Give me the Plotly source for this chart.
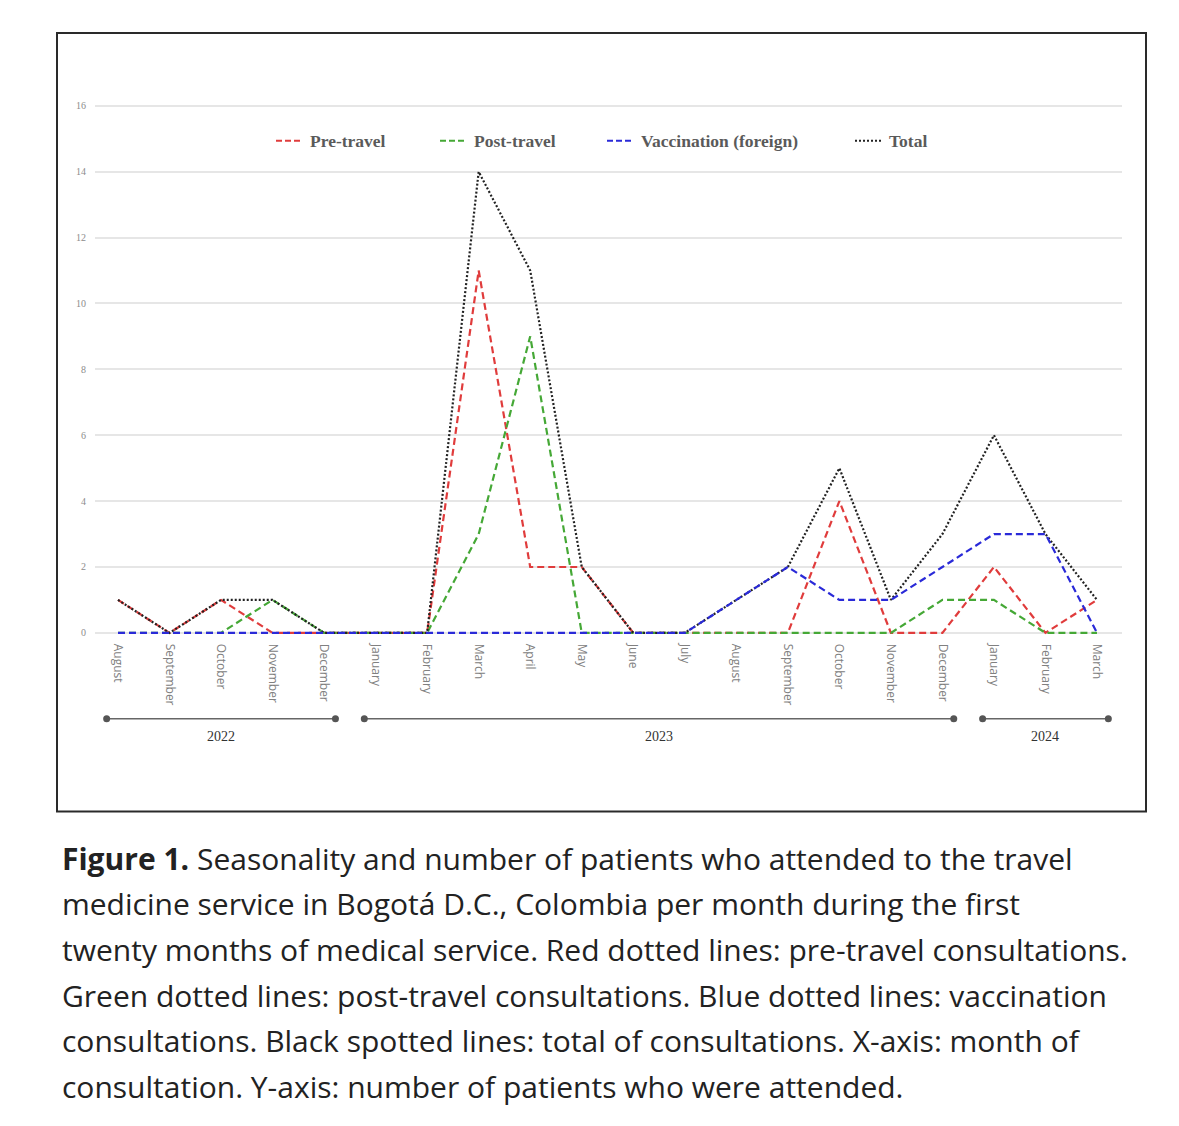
import plotly.graph_objects as go

months = ["August", "September", "October", "November", "December",
          "January", "February", "March", "April", "May", "June", "July",
          "August", "September", "October", "November", "December",
          "January", "February", "March"]
pre_travel = [1, 0, 1, 0, 0, 0, 0, 11, 2, 2, 0, 0, 0, 0, 4, 0, 0, 2, 0, 1]
post_travel = [0, 0, 0, 1, 0, 0, 0, 3, 9, 0, 0, 0, 0, 0, 0, 0, 1, 1, 0, 0]
vaccination = [0, 0, 0, 0, 0, 0, 0, 0, 0, 0, 0, 0, 1, 2, 1, 1, 2, 3, 3, 0]
total = [1, 0, 1, 1, 0, 0, 0, 14, 11, 2, 0, 0, 1, 2, 5, 1, 3, 6, 3, 1]
years = ["2022", "2023", "2024"]
year_first = [0, 5, 17]
year_last = [4, 16, 19]
y_ticks = [0, 2, 4, 6, 8, 10, 12, 14, 16]

series_names = ["Pre-travel", "Post-travel", "Vaccination (foreign)", "Total"]
colors = ["#e03c3c", "#45a836", "#2a2ad8", "#222222"]

W, H = 1179, 1126
x = list(range(len(months)))

fig = go.Figure()

def add(vals, color, dash):
    fig.add_trace(go.Scatter(x=x, y=vals, mode="lines",
                             line=dict(color=color, width=2.2, dash=dash),
                             showlegend=False, hoverinfo="skip"))

add(pre_travel, colors[0], "7px,4px")
add(post_travel, colors[1], "7px,4px")
add(total, colors[3], "2px,2px")
add(vaccination, colors[2], "7px,4px")

def px_y(p):
    return 1 - p / H

def px_x(p):
    return p / W

shapes = []
annotations = []

# border box
shapes.append(dict(type="rect", xref="paper", yref="paper",
                   x0=px_x(57), x1=px_x(1146), y0=px_y(811), y1=px_y(31),
                   line=dict(color="#2a2a2a", width=2)))

# year brackets
by = px_y(718)
for name, a, b in zip(years, year_first, year_last):
    shapes.append(dict(type="line", xref="x", yref="paper", x0=a - 0.22, x1=b + 0.22,
                       y0=by, y1=by, line=dict(color="#666666", width=1.5)))
    for xe in (a - 0.22, b + 0.22):
        shapes.append(dict(type="circle", xref="x", yref="paper",
                           xsizemode="pixel", ysizemode="pixel",
                           xanchor=xe, yanchor=by, x0=-3.5, x1=3.5, y0=-3.5, y1=3.5,
                           fillcolor="#555555", line=dict(color="#555555", width=0)))
    annotations.append(dict(text=name, xref="x", yref="paper", x=(a + b) / 2,
                            y=px_y(736), showarrow=False, xanchor="center", yanchor="middle",
                            font=dict(family="Liberation Serif", size=14, color="#333333")))

# legend (manual)
leg_y = px_y(139)
leg_x = [276, 440, 607, 855]
for name, color, lx in zip(series_names, colors, leg_x):
    dash = "2px,2px" if name == "Total" else "6px,3px"
    shapes.append(dict(type="line", xref="paper", yref="paper",
                       x0=px_x(lx), x1=px_x(lx + 27), y0=leg_y, y1=leg_y,
                       line=dict(color=color, width=2.2, dash=dash)))
    annotations.append(dict(text="<b>" + name + "</b>", xref="paper", yref="paper",
                            x=px_x(lx + 32), y=leg_y, showarrow=False,
                            xanchor="left", yanchor="middle",
                            font=dict(family="Liberation Serif", size=17.5, color="#5a5a5a")))

# caption
caption_lines = [
    "<b>Figure 1.</b> Seasonality and number of patients who attended to the travel",
    "medicine service in Bogotá D.C., Colombia per month during the first",
    "twenty months of medical service. Red dotted lines: pre-travel consultations.",
    "Green dotted lines: post-travel consultations. Blue dotted lines: vaccination",
    "consultations. Black spotted lines: total of consultations. X-axis: month of",
    "consultation. Y-axis: number of patients who were attended.",
]
for i, line in enumerate(caption_lines):
    annotations.append(dict(text=line, xref="paper", yref="paper", x=px_x(60),
                            y=px_y(858 + i * 45.6), showarrow=False,
                            xanchor="left", yanchor="middle",
                            font=dict(family="Open Sans", size=30, color="#222222")))

# axis geometry: index 0 at px 118, index 19 at px 1097
x_left, x_right = 95, 1122
ppu_x = (1097 - 118) / 19
xr = [(x_left - 118) / ppu_x, (x_right - 118) / ppu_x]
# y: 0 at px 632, 16 at px 104
ppu_y = (632 - 104) / 16
y_lo, y_hi = -0.3, 16.1
yb = 632 + (0 - y_lo) * ppu_y
yt = 632 - y_hi * ppu_y

fig.update_layout(
    width=W, height=H,
    margin=dict(l=0, r=0, t=0, b=0),
    paper_bgcolor="white", plot_bgcolor="white",
    showlegend=False,
    shapes=shapes, annotations=annotations,
    xaxis=dict(domain=[px_x(x_left), px_x(x_right)], range=xr,
               tickmode="array", tickvals=x, ticktext=months, tickangle=90,
               showgrid=False, zeroline=False, showline=False, ticks="",
               tickfont=dict(family="Open Sans", size=12, color="#808080")),
    yaxis=dict(domain=[px_y(yb), px_y(yt)], range=[y_lo, y_hi],
               tickmode="array", tickvals=y_ticks, showgrid=True,
               gridcolor="#e6e6e6", gridwidth=1.5, zeroline=False, showline=False, ticks="",
               ticklabelstandoff=8,
               tickfont=dict(family="Liberation Serif", size=10, color="#8c8c8c")),
)

fig.write_html("out.html", config={"displayModeBar": False},
               post_script="document.body.style.margin='0';")
